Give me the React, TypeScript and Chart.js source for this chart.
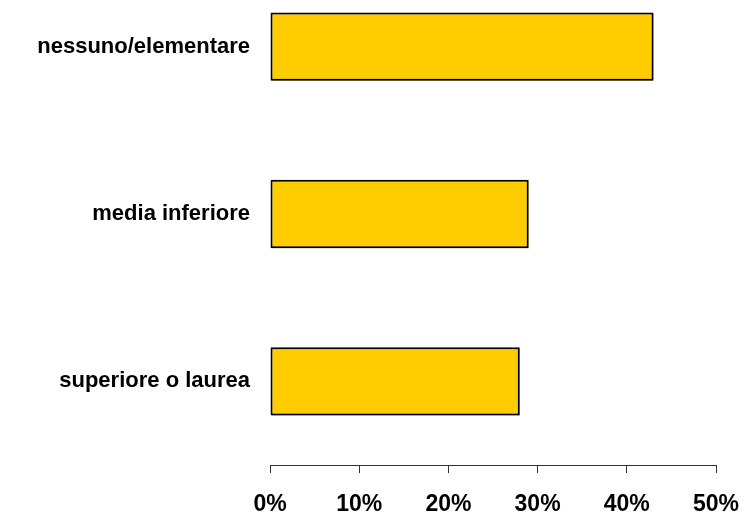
import React, { useEffect, useRef } from "react";
import { Chart, registerables } from "chart.js";

Chart.register(...registerables);

const categories = ["nessuno/elementare", "media inferiore", "superiore o laurea"];
const values = [43, 29, 28];
const xTicks = [0, 10, 20, 30, 40, 50];

const shadowPlugin = {
  id: "barShadow",
  beforeDatasetDraw(chart: any) {
    const ctx = chart.ctx;
    ctx.save();
    ctx.shadowColor = "rgba(0,0,0,0.3)";
    ctx.shadowOffsetX = 1.5;
    ctx.shadowOffsetY = 1.5;
    ctx.shadowBlur = 0;
  },
  afterDatasetDraw(chart: any) {
    chart.ctx.restore();
  },
};

export default function App() {
  const ref = useRef<HTMLCanvasElement | null>(null);

  useEffect(() => {
    if (!ref.current) return;
    const chart = new Chart(ref.current, {
      type: "bar",
      data: {
        labels: categories,
        datasets: [
          {
            data: values,
            backgroundColor: "#FFCC00",
            borderColor: "#000000",
            borderWidth: 2,
            borderSkipped: false,
            barPercentage: 0.408,
            categoryPercentage: 1,
          },
        ],
      },
      plugins: [shadowPlugin],
      options: {
        indexAxis: "y",
        responsive: false,
        animation: false,
        maintainAspectRatio: false,
        layout: { padding: { left: 0, right: 25, top: 0, bottom: 0 } },
        plugins: { legend: { display: false }, tooltip: { enabled: false } },
        scales: {
          x: {
            type: "linear",
            min: 0,
            max: 50,
            afterBuildTicks: (scale: any) => {
              scale.ticks = xTicks.map((v) => ({ value: v }));
            },
            afterFit: (scale: any) => {
              scale.height = 47;
              scale.paddingLeft = 0;
              scale.paddingRight = 0;
            },
            border: { display: true, color: "#303030", width: 1 },
            grid: {
              drawOnChartArea: false,
              drawTicks: true,
              tickLength: 8,
              color: "#303030",
              lineWidth: 1,
            },
            ticks: {
              padding: 18,
              maxRotation: 0,
              autoSkip: false,
              color: "#000000",
              font: { family: "'Liberation Sans', Arial, sans-serif", size: 23, weight: "bold" },
              callback: (v: any) => v + "%",
            },
          },
          y: {
            type: "category",
            afterFit: (scale: any) => {
              scale.width = 270;
              scale.paddingTop = 0;
              scale.paddingBottom = 0;
            },
            border: { display: false },
            grid: { display: false, drawTicks: false },
            ticks: {
              padding: 20,
              color: "#000000",
              font: { family: "'Liberation Sans', Arial, sans-serif", size: 22, weight: "bold" },
            },
          },
        },
      },
    });
    return () => chart.destroy();
  }, []);

  return (
    <div style={{ position: "absolute", left: 0, top: -37, width: 741, height: 549 }}>
      <canvas ref={ref} width={741} height={549} style={{ display: "block", width: 741, height: 549 }} />
    </div>
  );
}
